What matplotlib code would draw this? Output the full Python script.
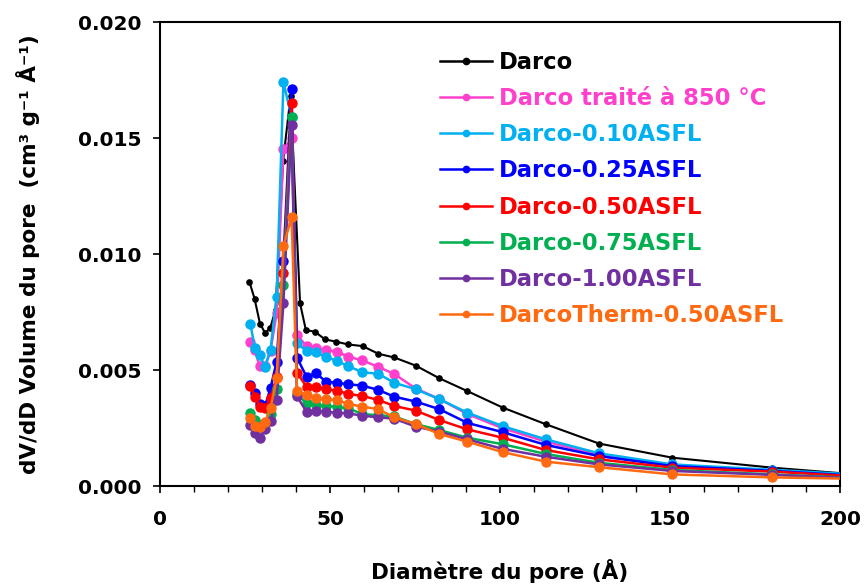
import matplotlib
matplotlib.use("Agg")
import matplotlib.pyplot as plt
from matplotlib.ticker import MultipleLocator, FormatStrFormatter

plt.rcParams['font.family'] = ['DejaVu Sans']
plt.rcParams['font.weight'] = 'bold'

# ---- data ----
x_darco = [26.3, 27.8, 29.4, 30.9, 32.4, 34.0, 36.2, 38.4, 41.2, 42.9, 45.6, 48.5,
           51.8, 55.4, 59.6, 64.2, 68.9, 75.2, 82.2, 90.4, 100.8, 113.5, 129.1,
           150.7, 180.1, 230.0]
x_common = [26.6, 27.9, 29.3, 30.9, 32.5, 34.3, 36.3, 38.7, 40.3, 43.1, 45.9, 48.8,
            52.0, 55.4, 59.5, 64.2, 68.9, 75.2, 82.2, 90.4, 100.8, 113.5, 129.1,
            150.7, 180.1, 230.0]

darco = [0.00880, 0.00808, 0.00700, 0.00660, 0.00680, 0.00760, 0.01400, 0.01680,
         0.00787, 0.00672, 0.00665, 0.00632, 0.00622, 0.00610, 0.00603, 0.00570,
         0.00554, 0.00519, 0.00464, 0.00409, 0.00338, 0.00266, 0.00183, 0.00122,
         0.00079, 0.00020]
darco_850 = [0.00622, 0.00586, 0.00517, 0.00517, 0.00583, 0.00744, 0.01451, 0.01500,
             0.00651, 0.00603, 0.00593, 0.00586, 0.00579, 0.00557, 0.00542, 0.00513,
             0.00483, 0.00420, 0.00375, 0.00310, 0.00249, 0.00191, 0.00135, 0.00090,
             0.00066, 0.00025]
darco_010 = [0.00697, 0.00594, 0.00565, 0.00514, 0.00586, 0.00816, 0.01740, 0.01590,
             0.00615, 0.00582, 0.00576, 0.00557, 0.00539, 0.00517, 0.00490, 0.00484,
             0.00445, 0.00417, 0.00374, 0.00316, 0.00258, 0.00201, 0.00141, 0.00093,
             0.00070, 0.00028]
darco_025 = [0.00435, 0.00400, 0.00352, 0.00345, 0.00421, 0.00536, 0.00970, 0.01710,
             0.00553, 0.00471, 0.00486, 0.00450, 0.00445, 0.00438, 0.00433, 0.00414,
             0.00385, 0.00364, 0.00331, 0.00272, 0.00232, 0.00177, 0.00129, 0.00086,
             0.00065, 0.00022]
darco_050 = [0.00431, 0.00385, 0.00342, 0.00335, 0.00378, 0.00470, 0.00917, 0.01650,
             0.00488, 0.00428, 0.00428, 0.00417, 0.00411, 0.00397, 0.00388, 0.00371,
             0.00345, 0.00325, 0.00284, 0.00244, 0.00208, 0.00155, 0.00115, 0.00079,
             0.00062, 0.00020]
darco_075 = [0.00316, 0.00285, 0.00262, 0.00270, 0.00310, 0.00417, 0.00866, 0.01590,
             0.00395, 0.00356, 0.00349, 0.00345, 0.00342, 0.00335, 0.00310, 0.00305,
             0.00300, 0.00267, 0.00241, 0.00208, 0.00180, 0.00138, 0.00100, 0.00069,
             0.00050, 0.00018]
darco_100 = [0.00263, 0.00230, 0.00206, 0.00244, 0.00280, 0.00371, 0.00787, 0.01556,
             0.00386, 0.00320, 0.00325, 0.00320, 0.00316, 0.00313, 0.00303, 0.00296,
             0.00290, 0.00256, 0.00234, 0.00201, 0.00160, 0.00126, 0.00093, 0.00065,
             0.00048, 0.00017]
darcotherm_050 = [0.00292, 0.00259, 0.00256, 0.00277, 0.00335, 0.00464, 0.01034, 0.01158,
                  0.00410, 0.00392, 0.00378, 0.00374, 0.00371, 0.00354, 0.00342, 0.00331,
                  0.00296, 0.00267, 0.00224, 0.00191, 0.00146, 0.00105, 0.00081, 0.00050,
                  0.00037, 0.00025]

labels = ["Darco", "Darco traité à 850 °C", "Darco-0.10ASFL", "Darco-0.25ASFL",
          "Darco-0.50ASFL", "Darco-0.75ASFL", "Darco-1.00ASFL", "DarcoTherm-0.50ASFL"]
colors = ["#000000", "#FF40CC", "#00B0F0", "#0000FF", "#FF0000", "#00B050",
          "#7030A0", "#FF6A10"]
xs = [x_darco] + [x_common] * 7
ys = [darco, darco_850, darco_010, darco_025, darco_050, darco_075, darco_100,
      darcotherm_050]

xticks = [0, 50, 100, 150, 200]
yticks = [0.000, 0.005, 0.010, 0.015, 0.020]

# ---- figure ----
fig = plt.figure(figsize=(8.64, 5.88), dpi=100)
ax = fig.add_axes([160/864, 1-486/588, 680/864, 464/588])

for i, (x, y, lab, c) in enumerate(zip(xs, ys, labels, colors)):
    if i == 0:
        ax.plot(x, y, '-o', color=c, lw=1.5, ms=3.8, label=lab, zorder=2 + i)
    else:
        ax.plot(x, y, '-o', color=c, lw=1.8, ms=6.5, label=lab, zorder=2 + i)

ax.set_xlim(0, 200)
ax.set_ylim(0, 0.020)
ax.set_xticks(xticks)
ax.set_yticks(yticks)
ax.xaxis.set_minor_locator(MultipleLocator(10))
ax.yaxis.set_major_formatter(FormatStrFormatter('%.3f'))

for s in ax.spines.values():
    s.set_linewidth(1.5)
ax.tick_params(axis='both', which='major', direction='out', length=5, width=1.2,
               labelsize=14.5)
ax.tick_params(axis='x', which='minor', direction='out', length=4, width=1.0)
ax.tick_params(axis='x', which='major', pad=12)
ax.tick_params(axis='y', which='major', pad=8)
for t in ax.get_xticklabels() + ax.get_yticklabels():
    t.set_fontweight('bold')

ax.set_xlabel("Diamètre du pore (Å)", fontsize=15.5, fontweight='bold', labelpad=22)
ax.set_ylabel("dV/dD Volume du pore  (cm³ g⁻¹ Å⁻¹)", fontsize=15.5,
              fontweight='bold', labelpad=28)

leg = ax.legend(loc='upper left', bbox_to_anchor=((440-160)/680, (486-51)/464),
                frameon=False, handlelength=2.3, handletextpad=0.3,
                labelspacing=0.58, borderpad=0, borderaxespad=0,
                labelcolor='linecolor', prop={'weight': 'bold', 'size': 16.3})
for h in leg.legend_handles:
    h.set_markersize(4.5)
    h.set_linewidth(1.8)

fig.savefig("out.png", dpi=100)
